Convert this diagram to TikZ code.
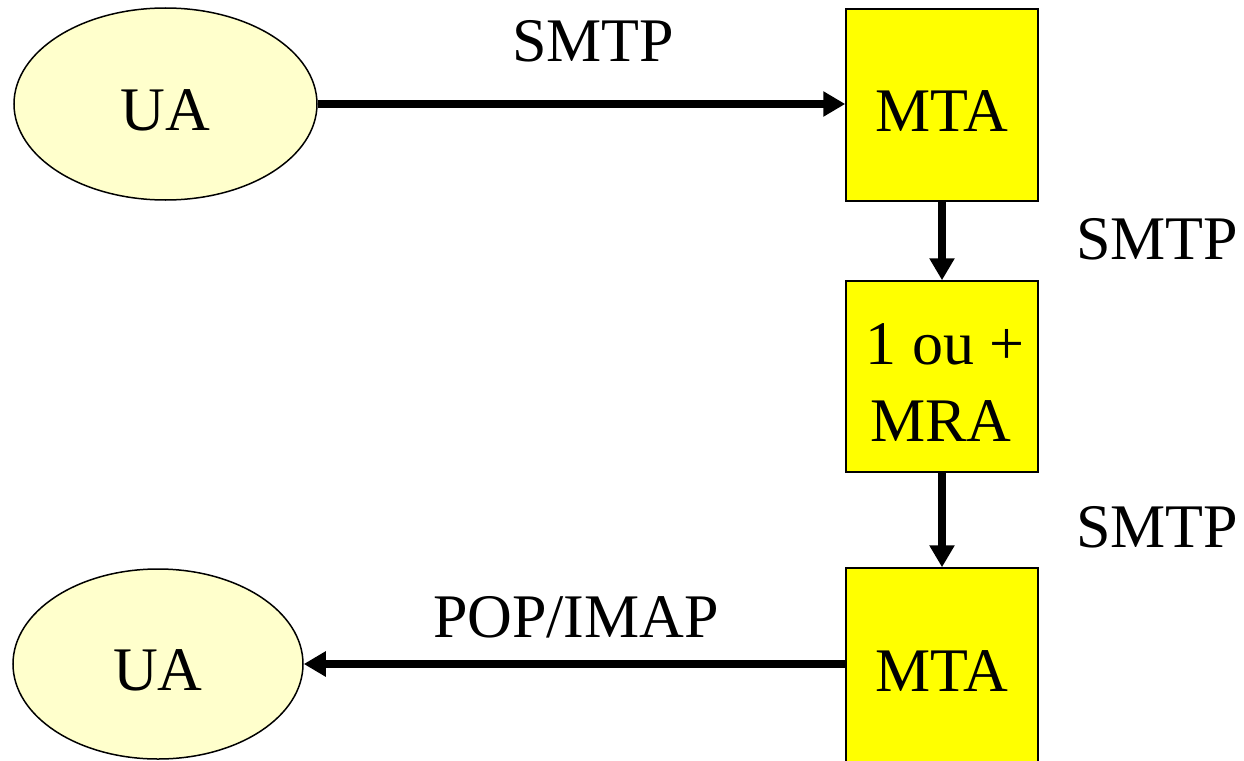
\documentclass[tikz,border=0pt]{standalone}
\usepackage{fontspec}
\setmainfont{Liberation Serif}
\usetikzlibrary{arrows.meta,shapes.geometric}
\definecolor{uafill}{RGB}{255,255,204}
\definecolor{boxfill}{RGB}{255,255,0}
\begin{document}
\begin{tikzpicture}[x=1pt,y=1pt,
  every node/.style={font=\fontsize{62}{74}\selectfont, inner sep=0pt},
  uanode/.style={ellipse, draw=black, line width=1.5pt, fill=uafill, text height=52pt, text depth=0pt},
  agent/.style={rectangle, draw=black, line width=1.5pt, fill=boxfill, minimum width=192pt, text height=52pt, text depth=0pt},
  flow/.style={line width=8.5pt, -{Triangle[length=22pt,width=24pt]}},
  proto/.style={anchor=base}]
\clip (0,0) rectangle (1244,-760);
\fill[white] (0,0) rectangle (1244,-760);
% nodes
\node[uanode, minimum width=303pt, minimum height=192pt] (ua1) at (165.5,-104) {UA};
\node[uanode, minimum width=290pt, minimum height=190pt] (ua2) at (158,-664) {UA};
\node[agent, minimum height=192pt] (mta1) at (942,-105) {MTA};
\node[agent, minimum height=191pt] (mra) at (942,-376.5) {};
\node[agent, minimum height=194pt] (mta2) at (942,-665) {MTA};
\node[anchor=base] (mraA) at (945,-364) {1 ou +};
\node[anchor=base] (mraB) at (941,-441) {MRA};
% labels
\node[proto] (l1) at (593,-61) {SMTP};
\node[proto] (l2) at (1157,-259) {SMTP};
\node[proto] (l3) at (1157,-547) {SMTP};
\node[proto] (l4) at (576,-637) {POP/IMAP};
% connectors
\draw[flow] (ua1.east) -- (ua1.east -| mta1.west);
\draw[flow] (mta1.south) -- (mra.north);
\draw[flow] (mra.south) -- (mta2.north);
\draw[flow] (ua2.east -| mta2.west) -- (ua2.east);
\end{tikzpicture}
\end{document}
